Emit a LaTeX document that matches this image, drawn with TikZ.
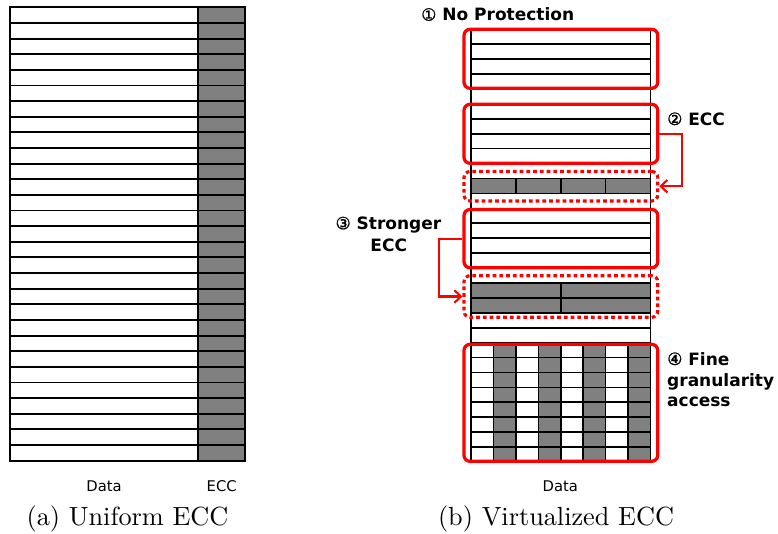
\documentclass[tikz,border=0pt]{standalone}
\usepackage{fontspec}
\newfontfamily\labelfont{DejaVu Sans}
\newfontfamily\circfont[FakeBold=1.2]{DejaVu Sans}
\usetikzlibrary{fit,arrows.meta}
\begin{document}
\begin{tikzpicture}[x=0.4pt,y=-0.4pt,
  cellline/.style={draw=black,line width=0.75pt},
  thinline/.style={draw=black,line width=0.65pt},
  redbox/.style={draw=red,line width=1.3pt,rounded corners=2.4pt,inner sep=0pt},
  reddots/.style={draw=red,line width=1.25pt,rounded corners=2.4pt,inner sep=0pt,
    dash pattern=on 1.5pt off 1.2pt},
  redarrow/.style={draw=red,line width=0.85pt,
    -{Straight Barb[length=2.6pt,width=5pt,line width=0.85pt]}},
  axislbl/.style={font=\labelfont\fontsize{5.9}{7}\selectfont,inner sep=0pt,anchor=base},
  boldlbl/.style={font=\labelfont\bfseries\fontsize{6.8}{8}\selectfont,inner sep=0pt},
  captionlbl/.style={font=\fontsize{10.5}{12}\selectfont,inner sep=0pt,anchor=base}]
\useasboundingbox (0,0) rectangle (778,533);

% ---------- (a) uniform ECC: 29 rows, data + ECC column ----------
\def\LT{7.3}\def\LP{15.633}
\fill[gray] (197.7,7.3) rectangle (245,460.7);
\foreach \i in {1,...,28}
  \draw[cellline] (10,{\LT+\i*\LP}) -- (245,{\LT+\i*\LP});
\draw[cellline] (10,7.3) rectangle (245,460.7);
\draw[cellline] (197.7,7.3) -- (197.7,460.7);

\node[axislbl] (dataA) at (104,491.7) {Data};
\node[axislbl] (eccA) at (221.7,491.7) {ECC};
\node[captionlbl] (capA) at (127.5,525.5) {(a) Uniform ECC};

% ---------- (b) virtualized ECC: 29 rows of one data column ----------
\def\RT{29.3}\def\RP{14.92}
\def\XL{471}\def\XR{650.5}
% ECC strip, four segments (row 10)
\fill[gray] (\XL,{\RT+10*\RP}) rectangle (\XR,{\RT+11*\RP});
% stronger ECC, two segments (rows 17--18)
\fill[gray] (\XL,{\RT+17*\RP}) rectangle (\XR,{\RT+19*\RP});
% fine granularity: alternating columns (rows 21--28)
\foreach \k in {1,3,5,7}
  \fill[gray] ({\XL+\k*22.4375},{\RT+21*\RP}) rectangle ({\XL+(\k+1)*22.4375},{\RT+29*\RP});
\foreach \i in {0,...,29}
  \draw[thinline] (\XL,{\RT+\i*\RP}) -- (\XR,{\RT+\i*\RP});
\draw[thinline] (\XL,\RT) -- (\XL,{\RT+29*\RP});
\draw[thinline] (\XR,\RT) -- (\XR,{\RT+29*\RP});
\foreach \k in {1,2,3}
  \draw[thinline] ({\XL+\k*44.875},{\RT+10*\RP}) -- ({\XL+\k*44.875},{\RT+11*\RP});
\draw[thinline] (560.75,{\RT+17*\RP}) -- (560.75,{\RT+19*\RP});
\foreach \k in {1,...,7}
  \draw[thinline] ({\XL+\k*22.4375},{\RT+21*\RP}) -- ({\XL+\k*22.4375},{\RT+29*\RP});

% regions
\node[redbox,fit={(464,29.3) (657.7,88.3)}] (p1) {};
\node[redbox,fit={(464,104.3) (657.7,163.3)}] (p2) {};
\node[redbox,fit={(464,209.5) (657.7,267.8)}] (p3) {};
\node[redbox,fit={(464,344.3) (657.7,461.3)}] (p4) {};
\node[reddots,fit={(464,171.5) (657.7,201)}] (d1) {};
\node[reddots,fit={(464,275.7) (657.7,317.3)}] (d2) {};

% where the ECC of each region is kept
\draw[redarrow] (p2.east) -- ++(22.7,0) |- (d1.east);
\draw[redarrow] (p3.west) -- ++(-23.3,0) |- (d2.west);

% labels
\node[boldlbl,anchor=base west] (l1) at (420.7,20.7) {{\circfont\mdseries ①} No Protection};
\node[boldlbl,anchor=base west] (l2) at (666.7,125) {{\circfont\mdseries ②} ECC};
\node[boldlbl,anchor=base] (l3a) at (388.4,229.3) {{\circfont\mdseries ③} Stronger};
\node[boldlbl,anchor=base] (l3b) at (388.7,251.7) {ECC};
\node[boldlbl,anchor=base west] (l4a) at (666.7,365) {{\circfont\mdseries ④} Fine};
\node[boldlbl,anchor=base west] (l4b) at (666.7,386.5) {granularity};
\node[boldlbl,anchor=base west] (l4c) at (666.7,406.7) {access};

\node[axislbl] (dataB) at (560.3,491.7) {Data};
\node[captionlbl] (capB) at (556,525.5) {(b) Virtualized ECC};
\end{tikzpicture}
\end{document}
